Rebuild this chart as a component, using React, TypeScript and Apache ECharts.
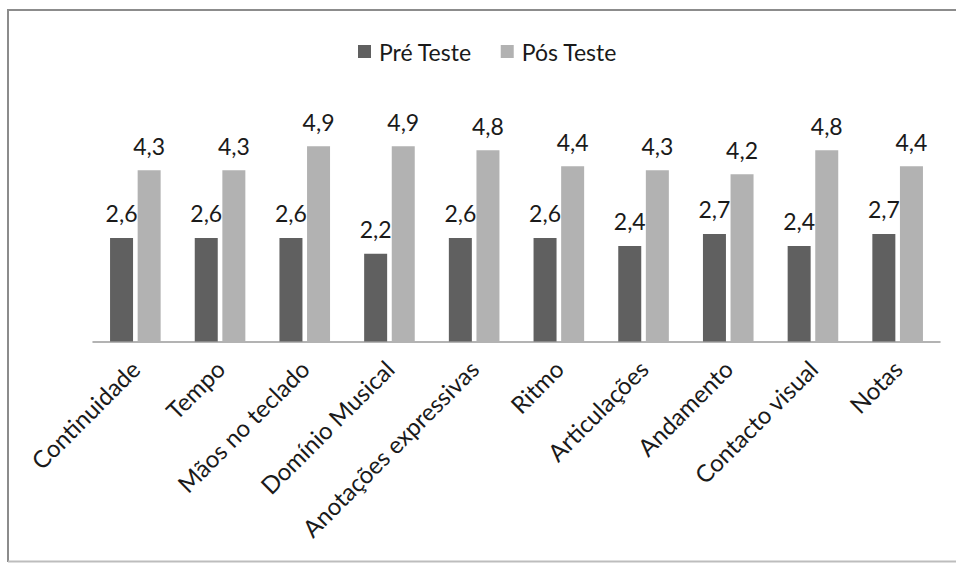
import React, { useEffect, useRef } from "react";
import * as echarts from "echarts";

const categories = [
  "Continuidade",
  "Tempo",
  "Mãos no teclado",
  "Domínio Musical",
  "Anotações expressivas",
  "Ritmo",
  "Articulações",
  "Andamento",
  "Contacto visual",
  "Notas",
];
const seriesNames = ["Pré Teste", "Pós Teste"];
const preTeste = [2.6, 2.6, 2.6, 2.2, 2.6, 2.6, 2.4, 2.7, 2.4, 2.7];
const posTeste = [4.3, 4.3, 4.9, 4.9, 4.8, 4.4, 4.3, 4.2, 4.8, 4.4];

const FONT = "Lato";

export default function App() {
  const ref = useRef<HTMLDivElement>(null);
  useEffect(() => {
    if (!ref.current) return;
    const chart = echarts.init(ref.current, undefined, { renderer: "svg" });
    const fmt = (p: any) => Number(p.value).toFixed(1).replace(".", ",");
    const labelStyle = {
      show: true,
      position: "top" as const,
      distance: 13,
      formatter: fmt,
      fontFamily: FONT,
      fontSize: 23,
      color: "#1a1a1a",
    };
    chart.setOption({
      animation: false,
      backgroundColor: "#ffffff",
      graphic: [
        { type: "line", shape: { x1: 8, y1: 10, x2: 956, y2: 10 }, style: { stroke: "#8c8c8c", lineWidth: 2 } },
        { type: "line", shape: { x1: 8, y1: 9, x2: 8, y2: 562 }, style: { stroke: "#8c8c8c", lineWidth: 2 } },
        { type: "line", shape: { x1: 8, y1: 561.5, x2: 956, y2: 561.5 }, style: { stroke: "#bdbdbd", lineWidth: 2 } },
      ],
      legend: {
        left: 353,
        top: 35,
        itemWidth: 13,
        itemHeight: 13,
        itemGap: 29,
        icon: "rect",
        textStyle: { fontFamily: FONT, fontSize: 23, color: "#1a1a1a", padding: [0, 0, 0, 3] },
        data: seriesNames,
      },
      grid: { left: 93, right: 16, top: 102.5, bottom: 221.5, containLabel: false },
      xAxis: {
        type: "category",
        data: categories,
        axisLine: { show: true, lineStyle: { color: "#9a9a9a", width: 1.5 } },
        axisTick: { show: false },
        axisLabel: {
          interval: 0,
          rotate: 45,
          margin: 23,
          fontFamily: FONT,
          fontSize: 24,
          color: "#1a1a1a",
        },
      },
      yAxis: {
        type: "value",
        min: 0,
        max: 6,
        interval: 1,
        show: false,
        splitLine: { show: false },
      },
      series: [
        {
          name: seriesNames[0],
          type: "bar",
          data: preTeste,
          barWidth: 23,
          barGap: "20%",
          itemStyle: { color: "#606060" },
          label: labelStyle,
        },
        {
          name: seriesNames[1],
          type: "bar",
          data: posTeste,
          barWidth: 23,
          barGap: "20%",
          itemStyle: { color: "#b2b2b2" },
          label: labelStyle,
        },
      ],
    });
    return () => chart.dispose();
  }, []);
  return (
    <div
      ref={ref}
      style={{ position: "fixed", left: 0, top: 0, width: 956, height: 563 }}
    />
  );
}
